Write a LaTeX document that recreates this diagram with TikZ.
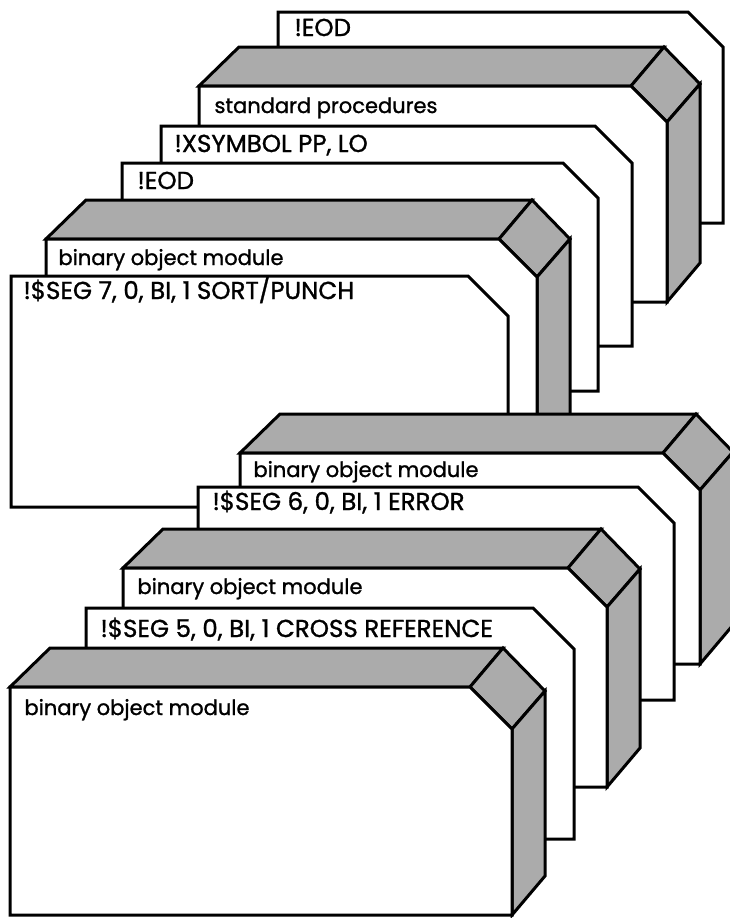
\documentclass[tikz,border=0pt]{standalone}
\usepackage{fontspec}
\setmainfont{Poppins}[FakeBold=1.2]
\begin{document}
\begin{tikzpicture}[x=1pt,y=-1pt,
  line width=3pt, line join=miter,
  face/.style={fill=white,draw=black},
  shaded/.style={fill=black!33,draw=black},
  lbl/.style={anchor=base west,inner sep=0pt,font=\fontsize{21}{24}\selectfont},
  capslbl/.style={anchor=base west,inner sep=0pt,font=\fontsize{24.5}{26}\selectfont}]
\useasboundingbox (0,0) rectangle (730,918);
\clip (0,0) rectangle (730,918);
\newcommand\deckbox[5]{%
  \pgfmathsetmacro\dkfC{#3-#5}\pgfmathsetmacro\dkfRy{#2+#5}%
  \pgfmathsetmacro\dkbL{#1+40}\pgfmathsetmacro\dkbT{#2-39}%
  \pgfmathsetmacro\dkbC{\dkfC+33}\pgfmathsetmacro\dkbR{#3+33}%
  \pgfmathsetmacro\dkbRy{\dkfRy-38}\pgfmathsetmacro\dkbB{#4-39}%
  \filldraw[shaded] (\dkbL,\dkbT) -- (\dkbC,\dkbT) -- (\dkfC,#2) -- (#1,#2) -- cycle;
  \filldraw[shaded] (\dkbC,\dkbT) -- (\dkbR,\dkbRy) -- (#3,\dkfRy) -- (\dkfC,#2) -- cycle;
  \filldraw[shaded] (#3,\dkfRy) -- (\dkbR,\dkbRy) -- (\dkbR,\dkbB) -- (#3,#4) -- cycle;
  \filldraw[face] (#1,#2) -- (\dkfC,#2) -- (#3,\dkfRy) -- (#3,#4) -- (#1,#4) -- cycle;
}
\newcommand\cardbox[5]{%
  \pgfmathsetmacro\dkcx{#3-#5}\pgfmathsetmacro\dkcy{#2+#5}%
  \filldraw[face] (#1,#2) -- (\dkcx,#2) -- (#3,\dkcy) -- (#3,#4) -- (#1,#4) -- cycle;
}
% upper group
\cardbox{278}{12}{723}{223}{35}
\node[capslbl] (eodA) at (293,36) {!EOD};
\deckbox{199}{86}{667}{302}{36}
\node[lbl] (stdproc) at (213,113) {standard procedures};
\cardbox{161}{126}{632}{346}{37}
\node[capslbl] (xsym) at (173,152) {!XSYMBOL PP, LO};
\cardbox{122}{163}{598}{391}{35}
\node[capslbl] (eodB) at (136,189) {!EOD};
\deckbox{46}{239}{537}{480}{38}
\node[lbl] (bomA) at (57,265) {binary object module};
\cardbox{11}{276}{508}{507}{40}
\node[capslbl] (seg7) at (22,299) {!\$SEG 7, 0, BI, 1 SORT/PUNCH};
% lower group
\deckbox{240}{453}{700}{664}{37}
\node[lbl] (bomB) at (252,477) {binary object module};
\cardbox{198}{487}{674}{700}{36}
\node[capslbl] (seg6) at (211,510) {!\$SEG 6, 0, BI, 1 ERROR};
\deckbox{123}{568}{607}{787}{39}
\node[lbl] (bomC) at (136,594) {binary object module};
\cardbox{86}{608}{574}{839}{41}
\node[capslbl] (seg5) at (99,637) {!\$SEG 5, 0, BI, 1 CROSS REFERENCE};
\deckbox{10}{687}{512}{915}{42}
\node[lbl] (bomD) at (23,715) {binary object module};
\end{tikzpicture}
\end{document}
